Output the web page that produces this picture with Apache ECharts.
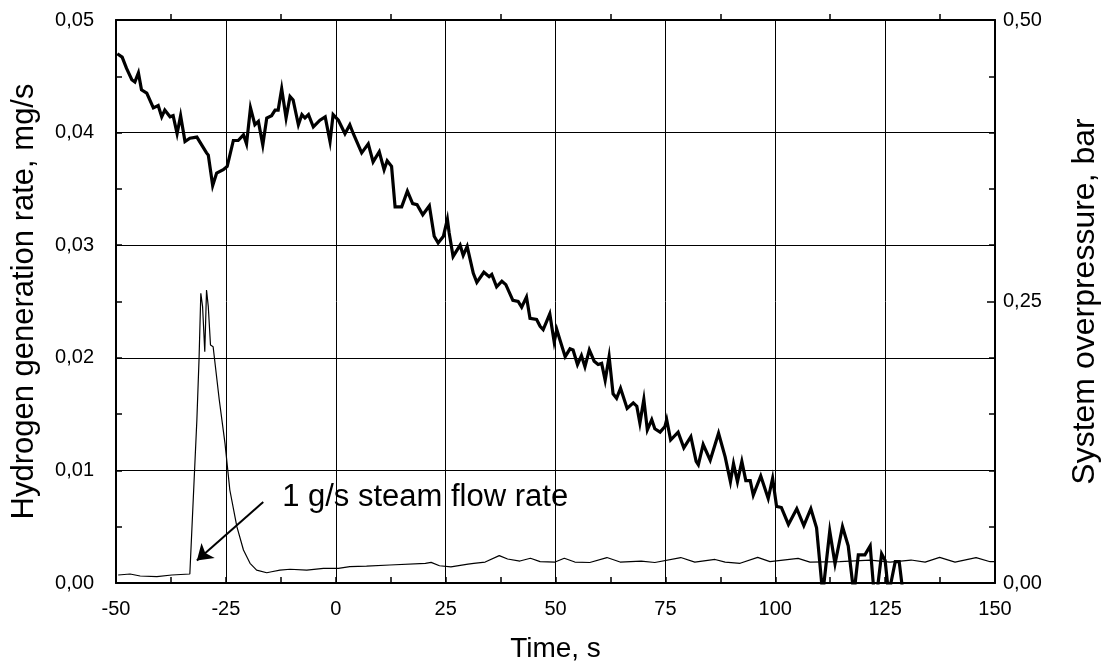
<!DOCTYPE html>
<html>
<head>
<meta charset="utf-8">
<script src="https://cdn.jsdelivr.net/npm/echarts@6/dist/echarts.min.js"></script>
<style>
html,body{margin:0;padding:0;background:#fff;}
#chart{width:1102px;height:670px;}
</style>
</head>
<body>
<div id="chart"></div>
<script>
// System overpressure (bar) — thick line, right axis
const pressureTime = [-49.7,-48.6,-47.6,-46.4,-45.7,-44.9,-44.2,-43.0,-41.5,-40.4,-39.6,-38.9,-37.7,-37.0,-36.1,-35.3,-34.3,-33.2,-31.6,-29.4,-29.0,-28.0,-27.1,-25.6,-24.7,-23.3,-22.2,-21.0,-20.3,-19.4,-18.4,-17.6,-16.6,-15.7,-14.6,-13.8,-13.1,-12.3,-11.3,-10.4,-9.7,-8.5,-7.7,-7.0,-6.2,-5.1,-3.6,-2.4,-1.3,-0.6,0.6,2.1,3.2,4.0,5.9,7.4,8.5,9.9,11.0,11.7,12.7,13.5,15.0,16.3,17.5,18.5,19.8,21.3,22.4,23.3,24.5,25.4,25.8,26.7,28.3,29.0,29.9,31.3,32.1,33.7,34.9,35.5,36.6,37.8,38.7,40.3,41.5,42.3,43.4,44.2,45.7,46.5,47.2,48.7,49.7,50.3,51.0,52.2,53.3,54.0,55.0,55.9,56.7,57.7,58.8,59.7,60.5,61.3,62.2,63.1,63.9,64.8,66.3,67.7,68.5,69.2,70.1,70.9,71.9,72.6,73.8,74.9,75.3,76.2,77.9,79.2,80.8,82.0,82.5,83.6,85.2,87.1,88.6,89.8,90.5,91.4,92.4,93.3,94.3,95.0,96.7,98.4,99.4,100.3,101.4,103.0,104.9,106.5,108.1,109.4,110.8,112.4,113.6,115.3,116.6,117.9,118.9,120.4,121.6,122.5,123.1,124.2,125.0,125.8,127.3,128.2,129.1];
const pressureBar = [0.470,0.467,0.457,0.447,0.445,0.453,0.438,0.435,0.422,0.424,0.414,0.420,0.414,0.415,0.399,0.415,0.392,0.395,0.396,0.382,0.380,0.353,0.364,0.367,0.370,0.393,0.393,0.398,0.390,0.422,0.407,0.410,0.389,0.413,0.415,0.420,0.420,0.439,0.413,0.432,0.429,0.407,0.416,0.413,0.416,0.405,0.411,0.414,0.392,0.416,0.411,0.399,0.407,0.399,0.382,0.390,0.374,0.383,0.367,0.375,0.370,0.334,0.334,0.348,0.337,0.336,0.327,0.335,0.308,0.302,0.308,0.323,0.311,0.290,0.300,0.291,0.299,0.275,0.267,0.276,0.272,0.274,0.263,0.268,0.265,0.251,0.250,0.245,0.254,0.235,0.234,0.228,0.225,0.239,0.214,0.225,0.216,0.201,0.208,0.207,0.194,0.202,0.192,0.207,0.197,0.194,0.195,0.180,0.201,0.168,0.164,0.173,0.155,0.160,0.157,0.142,0.163,0.136,0.145,0.137,0.134,0.139,0.145,0.127,0.134,0.120,0.130,0.108,0.105,0.123,0.109,0.133,0.112,0.090,0.106,0.090,0.108,0.091,0.091,0.078,0.095,0.075,0.093,0.068,0.067,0.052,0.066,0.051,0.066,0.049,-0.01,0.046,0.017,0.050,0.033,-0.01,0.025,0.025,0.033,-0.01,-0.01,0.026,0.020,-0.01,0.019,0.019,-0.01];

// Hydrogen generation rate (mg/s) — thin line, left axis
const h2Time = [-49.5,-46.8,-44.5,-40.7,-37.3,-33.2,-32.8,-31.6,-31.1,-30.7,-30.3,-29.8,-29.4,-29.0,-28.5,-27.9,-26.5,-25.2,-24.1,-22.5,-21.0,-19.5,-18.0,-15.7,-14.6,-12.7,-10.4,-6.6,-2.8,0.6,3.2,7.0,12.3,20.4,21.7,23.6,26.2,30.1,31.4,34.0,37.2,39.1,41.9,44.3,46.5,49.9,52.0,54.4,57.8,61.7,64.7,69.5,72.6,78.5,81.7,86.3,88.6,92.0,96.0,98.8,105.2,107.9,114.7,121.6,126.1,130.9,134.1,137.4,140.9,145.7,148.9,150.0];
const h2Rate = [0.00071,0.00080,0.00062,0.00056,0.00071,0.00080,0.00086,0.01447,0.01995,0.02573,0.02454,0.02054,0.02602,0.02454,0.02113,0.02098,0.01625,0.01240,0.00826,0.00500,0.00293,0.00175,0.00115,0.00091,0.00100,0.00115,0.00122,0.00115,0.00130,0.00130,0.00145,0.00150,0.00160,0.00174,0.00183,0.00153,0.00143,0.00168,0.00174,0.00186,0.00243,0.00213,0.00195,0.00220,0.00190,0.00186,0.00220,0.00186,0.00182,0.00226,0.00186,0.00195,0.00182,0.00226,0.00186,0.00209,0.00186,0.00175,0.00228,0.00190,0.00219,0.00186,0.00189,0.00204,0.00186,0.00204,0.00186,0.00228,0.00186,0.00226,0.00189,0.00190];

// Annotation
const noteText = '1 g/s steam flow rate';
const noteTextAt = [-12.2, 0.0076];
const arrowFrom = [-16.5, 0.0072];
const arrowTo = [-31.6, 0.0020];

// Axes
const xMin = -50, xMax = 150, xStep = 25;
const yMin = 0, yMax = 0.05, yStep = 0.01;
const y2Min = 0, y2Max = 0.5, y2Step = 0.25;

const FONT = 'Liberation Sans, Arial, Helvetica, sans-serif';
const comma = (v, d) => v.toFixed(d).replace('.', ',');

const chart = echarts.init(document.getElementById('chart'), null, {renderer: 'canvas'});
chart.setOption({
  animation: false,
  backgroundColor: '#fff',
  grid: {left: 116, right: 107, top: 20, bottom: 87, containLabel: false, outerBoundsMode: 'none'},
  xAxis: [{
    type: 'value', min: xMin, max: xMax, interval: xStep, position: 'bottom',
    name: 'Time, s', nameLocation: 'middle', nameGap: 52,
    nameTextStyle: {fontFamily: FONT, fontSize: 28, color: '#000'},
    axisLine: {show: true, onZero: false, lineStyle: {color: '#000', width: 2}},
    axisTick: {show: true, inside: true, length: 6, lineStyle: {color: '#000', width: 1.5}},
    minorTick: {show: true, splitNumber: 2, length: 6, lineStyle: {color: '#000', width: 1.5}},
    axisLabel: {fontFamily: FONT, fontSize: 20, color: '#000', margin: 16, formatter: v => String(v)},
    splitLine: {show: true, lineStyle: {color: '#000', width: 1}}
  }, {
    type: 'value', min: xMin, max: xMax, interval: xStep, position: 'top',
    axisLine: {show: true, onZero: false, lineStyle: {color: '#000', width: 2}},
    axisTick: {show: false},
    minorTick: {show: true, splitNumber: 2, length: 6, lineStyle: {color: '#000', width: 1.5}},
    axisLabel: {show: false},
    splitLine: {show: false}
  }],
  yAxis: [{
    type: 'value', min: yMin, max: yMax, interval: yStep, position: 'left',
    name: 'Hydrogen generation rate, mg/s', nameLocation: 'middle', nameGap: 76,
    nameTextStyle: {fontFamily: FONT, fontSize: 31, color: '#000'},
    axisLine: {show: true, onZero: false, lineStyle: {color: '#000', width: 2}},
    axisTick: {show: true, inside: true, length: 6, lineStyle: {color: '#000', width: 1.5}},
    minorTick: {show: true, splitNumber: 2, length: 6, lineStyle: {color: '#000', width: 1.5}},
    axisLabel: {fontFamily: FONT, fontSize: 20, color: '#000', margin: 22, formatter: v => comma(v, 2)},
    splitLine: {show: true, lineStyle: {color: '#000', width: 1}}
  }, {
    type: 'value', min: y2Min, max: y2Max, interval: y2Step, position: 'right',
    name: 'System overpressure, bar', nameLocation: 'middle', nameGap: 74,
    nameTextStyle: {fontFamily: FONT, fontSize: 32, color: '#000'},
    axisLine: {show: true, onZero: false, lineStyle: {color: '#000', width: 2}},
    axisTick: {show: true, inside: true, length: 8, lineStyle: {color: '#000', width: 1.5}},
    minorTick: {show: true, splitNumber: 5, length: 6, lineStyle: {color: '#000', width: 1.5}},
    axisLabel: {fontFamily: FONT, fontSize: 20, color: '#000', margin: 8, formatter: v => comma(v, 2)},
    splitLine: {show: false}
  }],
  series: [{
    name: 'System overpressure',
    type: 'line', xAxisIndex: 0, yAxisIndex: 1,
    data: pressureTime.map((t, i) => [t, pressureBar[i]]),
    showSymbol: false, symbol: 'none', clip: true,
    lineStyle: {color: '#000', width: 3.2, join: 'miter'},
    z: 5
  }, {
    name: 'Hydrogen generation rate',
    type: 'line', xAxisIndex: 0, yAxisIndex: 0,
    data: h2Time.map((t, i) => [t, h2Rate[i]]),
    showSymbol: false, symbol: 'none', clip: true,
    lineStyle: {color: '#000', width: 1.2},
    z: 4,
    markLine: {
      silent: true, animation: false,
      symbol: ['none', 'arrow'], symbolSize: 15,
      lineStyle: {color: '#000', width: 2, type: 'solid'},
      itemStyle: {color: '#000'},
      label: {show: false},
      emphasis: {disabled: true},
      data: [[{coord: arrowFrom, symbol: 'none'}, {coord: arrowTo, symbol: 'arrow', symbolSize: 15}]]
    },
    markPoint: {
      silent: true, animation: false,
      symbol: 'circle', symbolSize: 0,
      data: [{coord: noteTextAt, value: noteText}],
      label: {show: true, position: 'right', distance: 0, formatter: noteText,
        fontFamily: FONT, fontSize: 31, color: '#000'}
    }
  }]
});
</script>
</body>
</html>
